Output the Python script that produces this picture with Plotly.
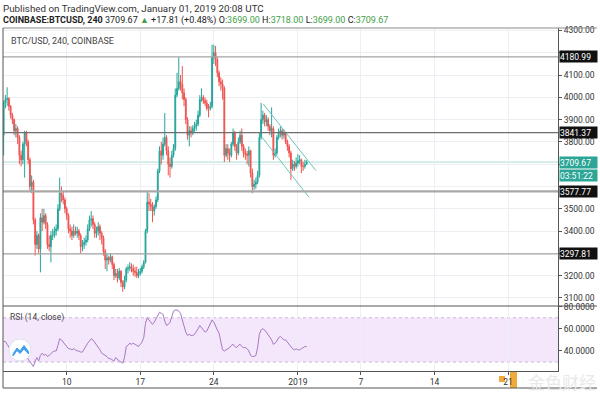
import plotly.graph_objects as go
from datetime import datetime, timedelta

# ---------------- data ----------------
start_time = datetime(2018, 12, 4, 0, 0)   # first 4h candle
first_open = 3830

closes = [
    3975, 3990, 3995, 3960, 3920,                 # Dec 4
    3900, 3850, 3860, 3820, 3740, 3720,           # Dec 5
    3790, 3840, 3800, 3720, 3600, 3620,           # Dec 6
    3450, 3340, 3380, 3320, 3460, 3440,           # Dec 7
    3470, 3430, 3340, 3330, 3380, 3380,           # Dec 8
    3400, 3410, 3500, 3570, 3560, 3540,           # Dec 9
    3500, 3470, 3410, 3400, 3380, 3400,           # Dec 10
    3390, 3400, 3380, 3330, 3340, 3350,           # Dec 11
    3360, 3410, 3450, 3455, 3430, 3390,           # Dec 12
    3400, 3420, 3390, 3370, 3310, 3270,           # Dec 13
    3280, 3270, 3285, 3250, 3200, 3210,           # Dec 14
    3190, 3220, 3170, 3150, 3180, 3230,           # Dec 15
    3235, 3240, 3230, 3220, 3215, 3200, 3210,     # Dec 16
    3220, 3240, 3260, 3400, 3530, 3520,
    3510, 3490, 3510, 3540, 3670, 3760,
    3740, 3790, 3820, 3760, 3700, 3690,
    3740, 3770, 4010, 4040, 4070, 4060,
    4020, 3990, 3900, 3830, 3850, 3840,
    3860, 3870, 3880, 3920, 3990, 4000,
    3985, 3975, 3950, 3950, 3960, 4180,
    4200, 4170, 4110, 4070, 4060, 4040,
    3740, 3770, 3750, 3740, 3790, 3840,
    3780, 3750, 3800, 3830, 3780, 3750,
    3745, 3740, 3760, 3660, 3600, 3610,
    3620, 3650, 3820, 3900, 3920, 3890,
    3900, 3870, 3850, 3860, 3740, 3750,
    3820, 3840, 3850, 3830, 3840, 3800,
    3780, 3750, 3680, 3700, 3690, 3705,
    3715, 3720, 3690, 3690, 3699, 3709.67,
]
highs = [
    3985, 4010, 4045, 4000, 3965,
    3930, 3905, 3880, 3870, 3830, 3760,
    3800, 3850, 3850, 3810, 3730, 3650,
    3630, 3460, 3400, 3390, 3480, 3500,
    3500, 3480, 3440, 3380, 3400, 3410,
    3420, 3430, 3520, 3640, 3600, 3580,
    3550, 3510, 3480, 3430, 3420, 3430,
    3420, 3420, 3410, 3390, 3360, 3370,
    3380, 3430, 3470, 3490, 3470, 3440,
    3420, 3440, 3430, 3400, 3380, 3320,
    3300, 3290, 3300, 3290, 3260, 3230,
    3230, 3235, 3225, 3180, 3200, 3240,
    3250, 3260, 3255, 3250, 3240, 3240, 3230,
    3235, 3250, 3270, 3410, 3580, 3570,
    3545, 3530, 3520, 3555, 3680, 3780,
    3800, 3820, 3930, 3830, 3780, 3730,
    3760, 3790, 4040, 4110, 4180, 4100,
    4140, 4040, 4000, 3910, 3870, 3870,
    3875, 3890, 3900, 3940, 4010, 4040,
    4010, 4000, 3990, 3970, 3980, 4236,
    4236, 4230, 4180, 4120, 4090, 4080,
    4050, 3790, 3790, 3770, 3800, 3860,
    3850, 3790, 3820, 3850, 3860, 3790,
    3770, 3760, 3780, 3765, 3680, 3630,
    3640, 3670, 3840, 3975, 3940, 3930,
    3920, 3910, 3880, 3955, 3870, 3770,
    3830, 3860, 3870, 3860, 3855, 3845,
    3810, 3790, 3760, 3720, 3715, 3730,
    3745, 3740, 3725, 3710, 3720, 3718,
]
lows = [
    3740, 3950, 3960, 3940, 3905,
    3880, 3830, 3820, 3790, 3700, 3690,
    3700, 3640, 3780, 3700, 3580, 3570,
    3430, 3290, 3320, 3300, 3215, 3400,
    3430, 3410, 3320, 3310, 3260, 3360,
    3370, 3380, 3400, 3490, 3530, 3520,
    3480, 3450, 3390, 3370, 3360, 3370,
    3380, 3370, 3360, 3300, 3310, 3320,
    3335, 3350, 3400, 3420, 3410, 3370,
    3370, 3380, 3360, 3340, 3290, 3230,
    3220, 3250, 3260, 3230, 3180, 3190,
    3170, 3180, 3150, 3128, 3140, 3170,
    3210, 3220, 3215, 3200, 3195, 3190, 3190,
    3200, 3210, 3230, 3255, 3390, 3490,
    3490, 3440, 3470, 3500, 3530, 3660,
    3700, 3720, 3780, 3740, 3650, 3640,
    3680, 3730, 3760, 4000, 4030, 4030,
    3990, 3960, 3880, 3810, 3780, 3820,
    3830, 3845, 3850, 3870, 3910, 3980,
    3970, 3960, 3940, 3910, 3940, 3950,
    4150, 4140, 4090, 4050, 4030, 3990,
    3710, 3730, 3720, 3710, 3730, 3780,
    3760, 3720, 3740, 3790, 3760, 3730,
    3720, 3700, 3690, 3640, 3570, 3585,
    3590, 3610, 3640, 3810, 3880, 3870,
    3870, 3850, 3830, 3820, 3720, 3730,
    3740, 3810, 3820, 3810, 3815, 3790,
    3760, 3730, 3630, 3670, 3670, 3680,
    3690, 3700, 3660, 3670, 3680, 3699,
]
rsi_values = [
    48.5, 48.5, 46, 43, 41, 44, 45, 43, 42, 41,
    40, 39, 37, 35, 32, 30, 28, 26, 31, 34,
    31, 36, 38, 36, 37, 35, 36, 38, 39, 40,
    40, 45, 51, 50, 48, 47, 44, 42, 42, 41,
    42, 41, 40, 40, 39, 39, 42, 44, 47, 49,
    51, 50, 48, 46, 44, 41, 38, 37, 36, 35,
    33, 33, 32, 31, 34, 32, 31, 30, 29, 34,
    44, 45, 47, 46, 47, 46, 45, 44, 46, 48, 52,
    65, 70, 68, 66, 64, 66, 69, 72, 75, 74,
    73, 67, 63, 64, 66, 71, 76, 77, 77, 76,
    74, 68, 62, 57, 54, 55, 54, 54, 55, 57,
    60, 63, 61, 59, 57, 58, 61, 64, 68, 66,
    62, 59, 56, 48, 41, 40, 41, 42, 43, 45,
    46, 44, 43, 45, 46, 44, 43, 43, 42, 40,
    36, 35, 35, 36, 43, 55, 59, 60, 59, 57,
    55, 53, 50, 46, 47, 49, 52, 53, 51, 50,
    50, 48, 46, 43, 42, 41, 42, 41, 41, 42,
    43, 44, 44,
]

level_prices = [4180.99, 3841.37, 3577.77, 3297.81]
level_colors = ["#a3a3a3", "#6e6e6e", "#a8a8a8", "#a3a3a3"]
level_widths = [1.3, 1.3, 2.2, 1.3]
last_price = 3709.67
countdown = "03:51:22"

channel_upper_t = ["2018-12-28 17:00", "2019-01-02 17:15"]
channel_upper_p = [3970, 3671]
channel_lower_t = ["2018-12-28 13:12", "2019-01-02 01:12"]
channel_lower_p = [3823, 3552]

price_ticks = [3100, 3200, 3300, 3400, 3500, 3600, 3700, 3800, 3900, 4000, 4100, 4200, 4300]
hidden_price_ticks = [3300, 3600, 3700, 4200]
rsi_ticks = [40, 60, 80]
rsi_tick_labels = ["40.0000", "60.0000", "80.0000"]
rsi_band = [30, 70]

date_ticks = ["2018-12-10", "2018-12-17", "2018-12-24", "2019-01-01",
              "2019-01-07", "2019-01-14", "2019-01-21"]
date_labels = ["10", "17", "24", "2019", "7", "14", "21"]

x_range = ["2018-12-03 22:34", "2019-01-25 18:00"]
price_range = [3064.1, 4310.8]
rsi_range = [21.9, 80.6]

# ---------------- derived ----------------
times = [start_time + timedelta(hours=4 * i) for i in range(len(closes))]
opens = [first_open] + closes[:-1]
highs = [max(h, o, c) for h, o, c in zip(highs, opens, closes)]
lows = [min(l, o, c) for l, o, c in zip(lows, opens, closes)]
rsi_times = [start_time + timedelta(hours=4 * i) for i in range(len(rsi_values))]

W, H = 600, 393
ML, MR, MT, MB = 3, 42, 28, 22
PW = W - ML - MR
PH = H - MT - MB


def px(X):
    return (X - ML) / PW


def py(Y):
    return (H - MB - Y) / PH


F = "Roboto, Arial, sans-serif"
UP = "#26a69a"
DOWN = "#ef5350"
GRID = "#eceff4"
AX = "#555555"

fig = go.Figure()
fig.add_trace(go.Candlestick(
    x=times, open=opens, high=highs, low=lows, close=closes,
    increasing=dict(line=dict(color=UP, width=1), fillcolor=UP),
    decreasing=dict(line=dict(color=DOWN, width=1), fillcolor=DOWN),
    whiskerwidth=0, xaxis="x", yaxis="y", showlegend=False, hoverinfo="skip"))
fig.add_trace(go.Scatter(x=channel_upper_t, y=channel_upper_p, mode="lines",
                         line=dict(color="#6cc4ba", width=1), xaxis="x", yaxis="y",
                         showlegend=False, hoverinfo="skip"))
fig.add_trace(go.Scatter(x=channel_lower_t, y=channel_lower_p, mode="lines",
                         line=dict(color="#6cc4ba", width=1), xaxis="x", yaxis="y",
                         showlegend=False, hoverinfo="skip"))
fig.add_trace(go.Scatter(x=rsi_times, y=rsi_values, mode="lines",
                         line=dict(color="#a678c2", width=1), xaxis="x", yaxis="y2",
                         showlegend=False, hoverinfo="skip"))

shapes = []
# RSI band and bounds
shapes.append(dict(type="rect", xref="paper", x0=0, x1=1, yref="y2", y0=rsi_band[0], y1=rsi_band[1],
                   fillcolor="#f4e7fb", line=dict(width=0), layer="below"))
for v in rsi_band:
    shapes.append(dict(type="line", xref="paper", x0=0, x1=1, yref="y2", y0=v, y1=v,
                       line=dict(color="#cdb6da", width=1, dash="dot"), layer="below"))
# horizontal levels
for p, c, w in zip(level_prices, level_colors, level_widths):
    shapes.append(dict(type="line", xref="paper", x0=0, x1=1, yref="y", y0=p, y1=p,
                       line=dict(color=c, width=w)))
shapes.append(dict(type="line", xref="paper", x0=0, x1=1, yref="y", y0=last_price, y1=last_price,
                   line=dict(color="#a9dcd6", width=1), layer="below"))
# pane separator and frame
shapes.append(dict(type="line", xref="paper", yref="paper", x0=0, x1=px(597), y0=py(306), y1=py(306),
                   line=dict(color=AX, width=1)))
shapes.append(dict(type="line", xref="paper", yref="paper", x0=0, x1=px(597), y0=1, y1=1,
                   line=dict(color="#8a8a8a", width=1)))
shapes.append(dict(type="line", xref="paper", yref="paper", x0=0, x1=0, y0=py(388), y1=1,
                   line=dict(color=AX, width=1)))
shapes.append(dict(type="line", xref="paper", yref="paper", x0=0, x1=px(597), y0=py(388), y1=py(388),
                   line=dict(color=AX, width=1)))
# logo
shapes.append(dict(type="circle", xref="paper", yref="paper", x0=px(9), x1=px(31), y0=py(361), y1=py(339),
                   fillcolor="white", line=dict(color="#dfe2ea", width=1)))
logo_pts = [(13, 354), (17, 348), (20, 351), (24, 345.5), (28.5, 351.5), (28.5, 354),
            (24, 349), (20, 353.5), (17, 350.5), (13, 356)]
path = "M " + " L ".join(f"{px(a):.5f},{py(b):.5f}" for a, b in logo_pts) + " Z"
shapes.append(dict(type="path", xref="paper", yref="paper", path=path,
                   fillcolor="#3f9fe8", line=dict(color="#3f9fe8", width=1)))
# watermark icon
shapes.append(dict(type="rect", xref="paper", yref="paper", x0=px(499), x1=px(505), y0=py(382), y1=py(376),
                   fillcolor="#f2a93b", line=dict(width=0), layer="below"))
shapes.append(dict(type="rect", xref="paper", yref="paper", x0=px(510), x1=px(517), y0=py(388), y1=py(372),
                   fillcolor="#f2a93b", line=dict(width=0), layer="below"))

ann = []
ann.append(dict(xref="paper", yref="paper", x=px(1), y=py(9), xanchor="left", yanchor="middle",
                text="Published on TradingView.com, January 01, 2019 20:08 UTC", showarrow=False,
                font=dict(family=F, size=9.8, color="#333333")))
G = "#43a047"
hdr = ("<b>COINBASE:BTCUSD, 240</b> 3709.67 <span style='color:%s'>▲</span> +17.81 (+0.48%%) "
       "O:<span style='color:%s'>3699.00</span> H:<span style='color:%s'>3718.00</span> "
       "L:<span style='color:%s'>3699.00</span> C:<span style='color:%s'>3709.67</span>") % (G, G, G, G, G)
ann.append(dict(xref="paper", yref="paper", x=px(1), y=py(20), xanchor="left", yanchor="middle",
                text=hdr, showarrow=False, font=dict(family=F, size=9, color="#222222")))
ann.append(dict(xref="paper", yref="paper", x=px(9), y=py(41), xanchor="left", yanchor="middle",
                text="BTC/USD, 240, COINBASE", showarrow=False, font=dict(family=F, size=9, color="#444444")))
ann.append(dict(xref="paper", yref="paper", x=px(8), y=py(317), xanchor="left", yanchor="middle",
                text="RSI (14, close)", showarrow=False, font=dict(family=F, size=8.5, color="#444444")))
for p in level_prices:
    ann.append(dict(xref="paper", x=px(559), xanchor="left", yref="y", y=p, yanchor="middle",
                    text=f"{p:.2f}", showarrow=False, font=dict(family=F, size=8.5, color="white"),
                    bgcolor="#111111", width=37, height=11, align="left", borderpad=0))
ann.append(dict(xref="paper", x=px(559), xanchor="left", yref="y", y=last_price, yanchor="middle",
                text=f"{last_price:.2f}", showarrow=False, font=dict(family=F, size=8.5, color="white"),
                bgcolor="#2aa596", width=37, height=11, align="left", borderpad=0))
ann.append(dict(xref="paper", x=px(559), xanchor="left", yref="y", y=last_price, yanchor="middle", yshift=-13,
                text=countdown, showarrow=False, font=dict(family=F, size=8.5, color="white"),
                bgcolor="#2aa596", width=37, height=11, align="left", borderpad=0))
ann.append(dict(xref="paper", yref="paper", x=px(562), y=py(381), xanchor="center", yanchor="middle",
                text="金色财经", showarrow=False,
                font=dict(family="Noto Sans CJK SC", size=17, color="#e9e9e9")))

price_text = ["" if t in hidden_price_ticks else f"{t:.2f}" for t in price_ticks]

fig.update_layout(
    width=W, height=H, margin=dict(l=ML, r=MR, t=MT, b=MB),
    paper_bgcolor="white", plot_bgcolor="white", showlegend=False,
    font=dict(family=F, size=8.5, color="#333333"),
    xaxis=dict(type="date", range=x_range, anchor="y2", tickvals=date_ticks, ticktext=date_labels,
               showgrid=True, gridcolor=GRID, gridwidth=1, ticks="outside", ticklen=3, tickcolor=AX,
               showline=True, linecolor=AX, linewidth=1, zeroline=False,
               tickfont=dict(family=F, size=8.5, color="#333333"),
               rangeslider=dict(visible=False)),
    yaxis=dict(domain=[py(306), 1], range=price_range, side="right", anchor="x",
               tickvals=price_ticks, ticktext=price_text, showgrid=True, gridcolor=GRID,
               ticks="outside", ticklen=3, tickcolor=AX, showline=True, linecolor=AX, linewidth=1,
               zeroline=False, tickfont=dict(family=F, size=8.5, color="#333333")),
    yaxis2=dict(domain=[0, py(306)], range=rsi_range, side="right", anchor="x",
                tickvals=rsi_ticks, ticktext=rsi_tick_labels, showgrid=False,
                ticks="outside", ticklen=3, tickcolor=AX, showline=True, linecolor=AX, linewidth=1,
                zeroline=False, tickfont=dict(family=F, size=8.5, color="#333333")),
    shapes=shapes, annotations=ann,
)

fig.write_html("out.html", config={"displayModeBar": False},
               post_script="document.body.style.margin='0';document.body.style.overflow='hidden';")
